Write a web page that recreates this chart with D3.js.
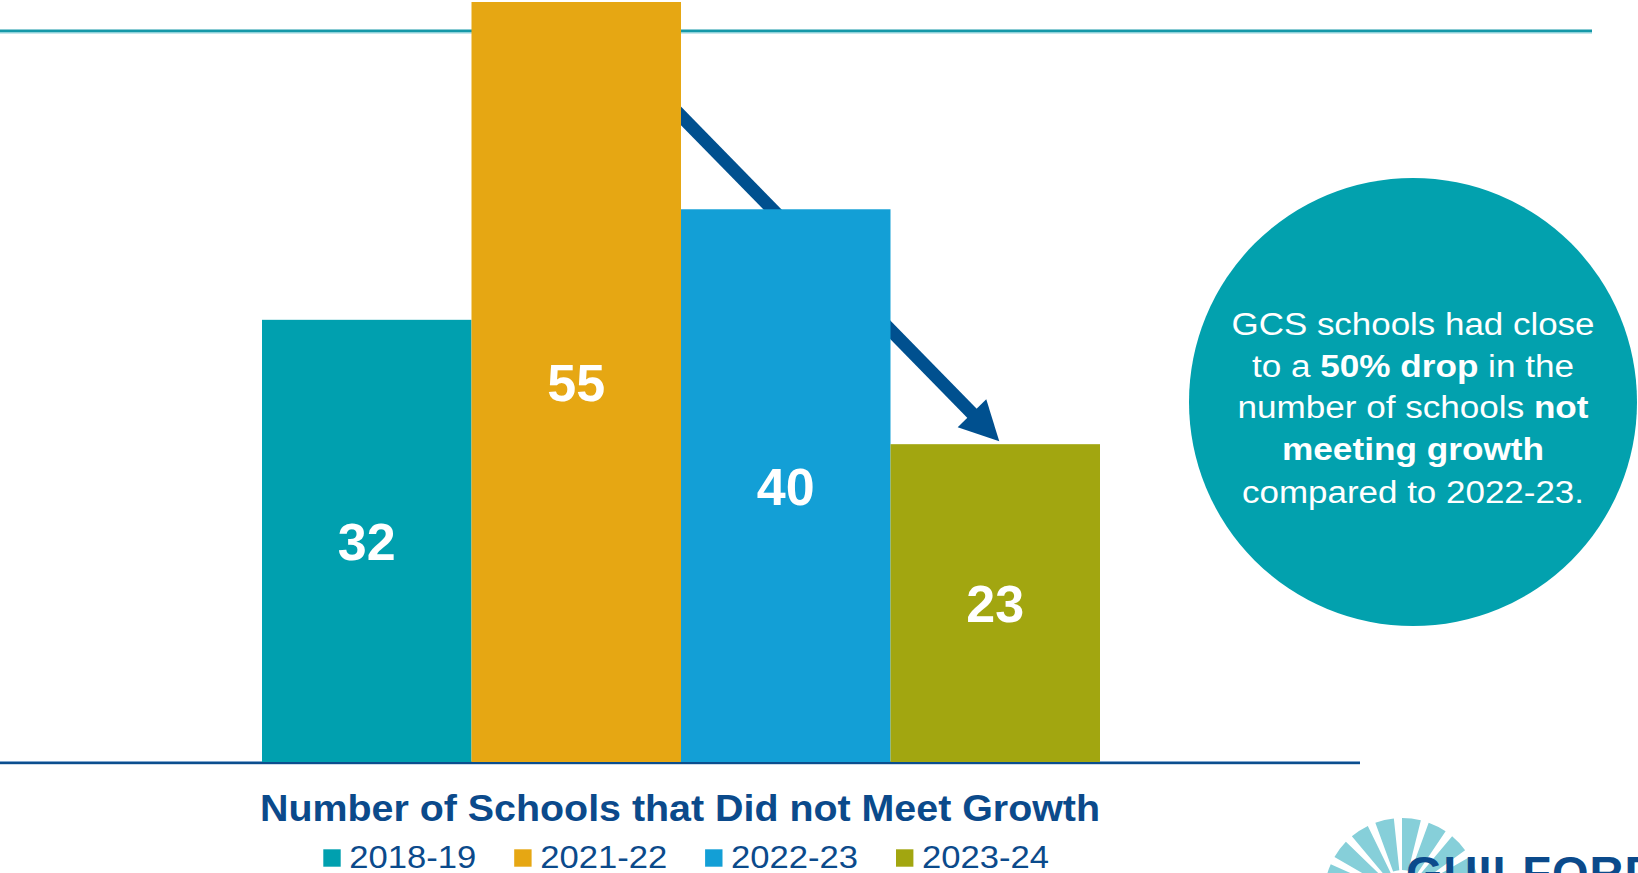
<!DOCTYPE html>
<html>
<head>
<meta charset="utf-8">
<script src="https://cdn.jsdelivr.net/npm/d3@7"></script>
<style>
  html, body { margin: 0; padding: 0; background: #ffffff; }
  svg { display: block; font-family: "Liberation Sans", Arial, sans-serif; }
</style>
</head>
<body>
<svg id="chart" width="1638" height="873"></svg>
<script>
// ---- data ----
const categories = ["2018-19", "2021-22", "2022-23", "2023-24"];
const values = [32, 55, 40, 23];
const chartTitle = "Number of Schools that Did not Meet Growth";
const calloutLines = [
  [{t: "GCS schools had close", b: false}],
  [{t: "to a ", b: false}, {t: "50% drop", b: true}, {t: " in the", b: false}],
  [{t: "number of schools ", b: false}, {t: "not", b: true}],
  [{t: "meeting growth", b: true}],
  [{t: "compared to 2022-23.", b: false}]
];
const logoText = "GUILFORD";

// ---- styles ----
const palette = ["#00a0af", "#e6a713", "#139fd6", "#a2a610"];
const navy = "#0b4a8b";
const arrowColor = "#00508f";

const svg = d3.select("#chart");
svg.append("rect").attr("width", 1638).attr("height", 873).attr("fill", "#fff");

const x = d3.scaleBand().domain(categories).range([262, 1100]).padding(0);
const y = d3.scaleLinear().domain([0, 55]).range([762, 2]);

// top decorative rule
svg.append("rect").attr("x", 0).attr("y", 29.5).attr("width", 1592).attr("height", 2.5).attr("fill", "#1598a8");
svg.append("rect").attr("x", 0).attr("y", 32).attr("width", 1592).attr("height", 1.5).attr("fill", "#8fd2da");

// baseline light part (behind bars)
svg.append("rect").attr("x", 0).attr("y", 761).attr("width", 1360).attr("height", 1.5).attr("fill", "#7fa6cf");

// arrow (behind bars)
const tip = [x("2023-24") + x.bandwidth() / 2 + 4, y(23) - 3];
const dir = [318, 325];
const dl = Math.hypot(dir[0], dir[1]);
const ux = dir[0] / dl, uy = dir[1] / dl;
const headLen = 39, headHalf = 20;
const base = [tip[0] - ux * headLen, tip[1] - uy * headLen];
const start = [tip[0] - ux * 480, tip[1] - uy * 480];
svg.append("line")
  .attr("x1", start[0]).attr("y1", start[1])
  .attr("x2", base[0] + ux * 4).attr("y2", base[1] + uy * 4)
  .attr("stroke", arrowColor).attr("stroke-width", 13);
const px = -uy, py = ux;
svg.append("path")
  .attr("d", `M${tip[0]},${tip[1]} L${base[0] + px * headHalf},${base[1] + py * headHalf} L${base[0] - px * headHalf},${base[1] - py * headHalf} Z`)
  .attr("fill", arrowColor);

// bars
svg.selectAll("rect.bar").data(categories).enter().append("rect")
  .attr("class", "bar")
  .attr("x", d => x(d))
  .attr("y", (d, i) => y(values[i]))
  .attr("width", x.bandwidth())
  .attr("height", (d, i) => y(0) - y(values[i]))
  .attr("fill", (d, i) => palette[i]);

// bar labels
svg.selectAll("text.lbl").data(categories).enter().append("text")
  .attr("class", "lbl")
  .attr("x", d => x(d) + x.bandwidth() / 2)
  .attr("y", (d, i) => (y(values[i]) + y(0)) / 2 + 19)
  .attr("text-anchor", "middle")
  .attr("font-size", 52).attr("font-weight", "bold").attr("fill", "#fff")
  .text((d, i) => values[i]);

// baseline dark part
svg.append("rect").attr("x", 0).attr("y", 762).attr("width", 1360).attr("height", 2.2).attr("fill", "#0b4e8e");

// title
svg.append("text")
  .attr("x", 260).attr("y", 821)
  .attr("font-size", 37).attr("font-weight", "bold").attr("fill", navy)
  .attr("textLength", 840).attr("lengthAdjust", "spacingAndGlyphs")
  .text(chartTitle);

// legend
const leg = svg.selectAll("g.leg").data(categories).enter().append("g")
  .attr("class", "leg")
  .attr("transform", (d, i) => `translate(${323.3 + i * 190.9},0)`);
leg.append("rect").attr("x", 0).attr("y", 849.3).attr("width", 17.4).attr("height", 17.4)
  .attr("fill", (d, i) => palette[i]);
leg.append("text").attr("x", 26).attr("y", 867.5)
  .attr("font-size", 32).attr("fill", navy)
  .attr("textLength", 127).attr("lengthAdjust", "spacingAndGlyphs")
  .text(d => d);

// callout circle
svg.append("circle").attr("cx", 1413).attr("cy", 402).attr("r", 224).attr("fill", "#02a1ae");
const lineBase = [335, 376.7, 418.3, 460, 503.3];
const lineWidths = [363, 322, 351, 262, 342];
calloutLines.forEach((parts, i) => {
  const t = svg.append("text")
    .attr("x", 1413).attr("y", lineBase[i])
    .attr("text-anchor", "middle")
    .attr("font-size", 31).attr("fill", "#fff")
    .attr("textLength", lineWidths[i]).attr("lengthAdjust", "spacingAndGlyphs");
  parts.forEach(p => {
    t.append("tspan").attr("font-weight", p.b ? "bold" : "normal").text(p.t);
  });
});

// logo (partially visible)
const sun = svg.append("g");
const sc = [1402, 896], rOut = 78, rIn = 26;
const nRays = 18;
for (let k = 0; k < nRays; k++) {
  const a0 = Math.PI + (k / nRays) * Math.PI * 2;
  const a1 = a0 + (Math.PI * 2 / nRays) * 0.7;
  const arc = d3.arc().innerRadius(rIn).outerRadius(rOut)
    .startAngle(a0).endAngle(a1);
  sun.append("path").attr("transform", `translate(${sc[0]},${sc[1]})`)
    .attr("d", arc()).attr("fill", "#86cfd9");
}
svg.append("text").attr("x", 1406).attr("y", 889)
  .attr("font-size", 47).attr("font-weight", "bold").attr("fill", "#0b4a8b")
  .attr("letter-spacing", 1)
  .text(logoText);
</script>
</body>
</html>
